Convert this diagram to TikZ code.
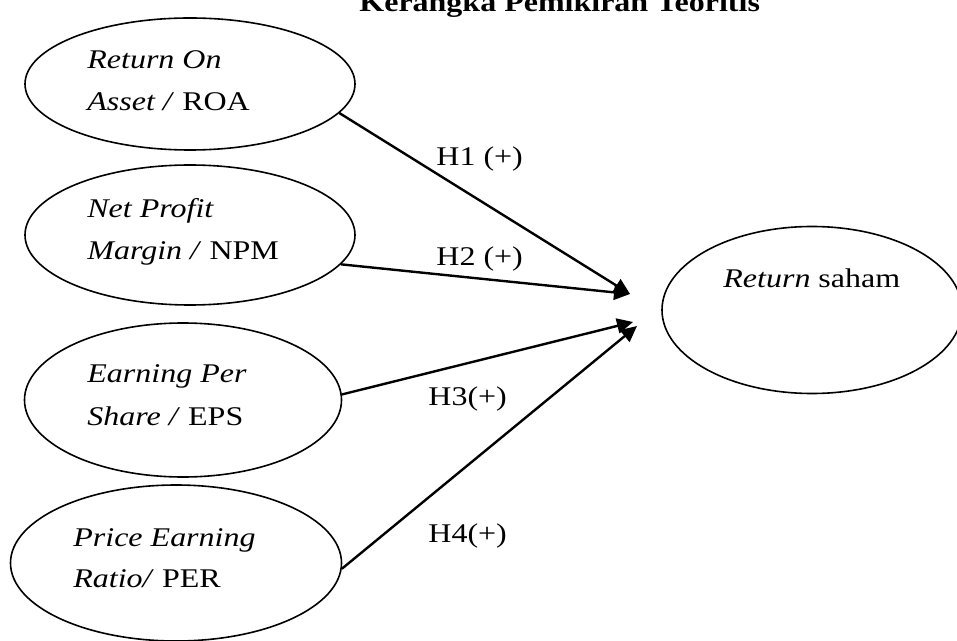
\documentclass[tikz,border=0pt]{standalone}
\usepackage{fontspec}
\setmainfont{Liberation Serif}
\usepackage{graphicx}
\usetikzlibrary{shapes.geometric,arrows.meta}
\newcommand{\wtext}[1]{\scalebox{1.185}[1]{#1}}

\begin{document}
\begin{tikzpicture}[x=0.5pt,y=-0.5pt,
        every node/.style={inner sep=0pt},
        var/.style={draw,ellipse,line width=0.8pt},
        txt/.style={anchor=base west,font=\fontsize{13.5}{16}\selectfont},
        hyp/.style={draw,line width=1.2pt,-{Triangle[length=8pt,width=7.5pt]}}]
        \useasboundingbox (0,0) rectangle (957,641);
        \node[txt] (title) at (359,12) {\wtext{\bfseries Kerangka Pemikiran Teoritis}};
        % variabel independen
        \node[var,minimum width=165pt,minimum height=66pt] (roa) at (190,84) {};
        \node[txt] (roa1) at (87,69) {\wtext{\itshape Return On}};
        \node[txt] (roa2) at (87,111) {\wtext{\textit{Asset /} ROA}};
        \node[var,minimum width=165pt,minimum height=70pt] (npm) at (190,235) {};
        \node[txt] (npm1) at (87,218) {\wtext{\itshape Net Profit}};
        \node[txt] (npm2) at (87,260) {\wtext{\textit{Margin /} NPM}};
        \node[var,minimum width=158.5pt,minimum height=77pt] (eps) at (183,400) {};
        \node[txt] (eps1) at (87,382) {\wtext{\itshape Earning Per}};
        \node[txt] (eps2) at (87,425) {\wtext{\textit{Share /} EPS}};
        \node[var,minimum width=165.5pt,minimum height=78pt] (per) at (176,563) {};
        \node[txt] (per1) at (73,546) {\wtext{\itshape Price Earning}};
        \node[txt] (per2) at (73,587) {\wtext{\textit{Ratio/} PER}};
        % variabel dependen
        \node[var,minimum width=150pt,minimum height=83.5pt] (ret) at (812,310) {};
        \node[txt] (ret1) at (723,288) {\wtext{\textit{Return} saham}};
        \coordinate (t1) at (630,294);
        \coordinate (t2) at (633,322);
        \coordinate (t3) at (637,326);
        \draw[hyp] (roa.-11.2) -- (t1);
        \draw[hyp] (npm.-11.2) -- (t1);
        \draw[hyp] (eps.2.9) -- (t2);
        \draw[hyp] (per.-2.4) -- (t3);
        \node[txt] (h1) at (436,166) {\wtext{H1 (+)}};
        \node[txt] (h2) at (436,266) {\wtext{H2 (+)}};
        \node[txt] (h3) at (428,405) {\wtext{H3(+)}};
        \node[txt] (h4) at (428,542) {\wtext{H4(+)}};
\end{tikzpicture}
\end{document}
